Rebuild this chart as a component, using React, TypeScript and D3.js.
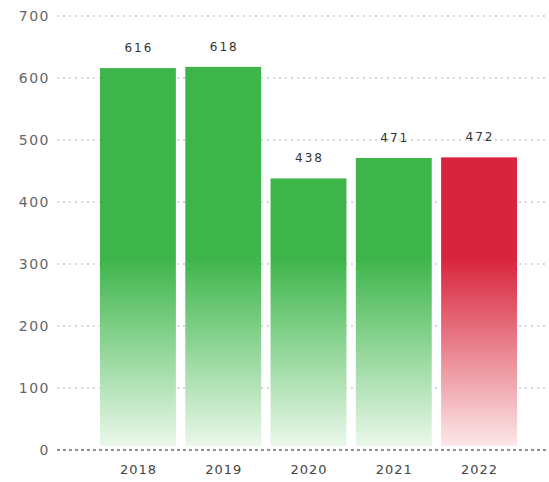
import React, { useEffect, useRef } from "react";
import * as d3 from "d3";

const years = ["2018", "2019", "2020", "2021", "2022"];
const values = [616, 618, 438, 471, 472];
const barColors = ["#3db54a", "#3db54a", "#3db54a", "#3db54a", "#d8243c"];
const fadeColors = ["#eef9ee", "#eef9ee", "#eef9ee", "#eef9ee", "#fdecec"];
const yTicks = [0, 100, 200, 300, 400, 500, 600, 700];

const App: React.FC = () => {
  const svgRef = useRef<SVGSVGElement>(null);

  useEffect(() => {
    if (!svgRef.current) return;
    const svg = d3.select(svgRef.current);
    svg.selectAll("*").remove();

    const width = 549;
    const height = 482;

    const x = d3
      .scaleBand()
      .domain(years)
      .range([95.3, 521.7])
      .paddingInner(0.11)
      .paddingOuter(0.055);

    const y = d3.scaleLinear().domain([0, 700]).range([450, 16]);

    const font = "'DejaVu Sans', sans-serif";

    // Gradients (absolute coordinates so all bars fade the same way)
    const defs = svg.append("defs");
    years.forEach((yr, i) => {
      const g = defs
        .append("linearGradient")
        .attr("id", `grad-${yr}`)
        .attr("gradientUnits", "userSpaceOnUse")
        .attr("x1", 0)
        .attr("x2", 0)
        .attr("y1", y(310))
        .attr("y2", y(0));
      g.append("stop").attr("offset", "0%").attr("stop-color", barColors[i]);
      g.append("stop").attr("offset", "100%").attr("stop-color", fadeColors[i]);
    });

    // Grid lines
    svg
      .append("g")
      .selectAll("line")
      .data(yTicks.filter((t) => t > 0))
      .enter()
      .append("line")
      .attr("x1", 57)
      .attr("x2", width)
      .attr("y1", (d) => y(d))
      .attr("y2", (d) => y(d))
      .attr("stroke", "#cccccc")
      .attr("stroke-width", 1.5)
      .attr("stroke-dasharray", "2,4");

    // Y tick labels
    svg
      .append("g")
      .selectAll("text")
      .data(yTicks)
      .enter()
      .append("text")
      .attr("x", 50)
      .attr("y", (d) => y(d))
      .attr("dy", "0.35em")
      .attr("text-anchor", "end")
      .style("font-family", font)
      .style("font-size", "14px")
      .style("letter-spacing", "1.5px")
      .attr("fill", "#666")
      .text((d) => d);

    // Bars
    svg
      .append("g")
      .selectAll("rect")
      .data(values)
      .enter()
      .append("rect")
      .attr("x", (_, i) => x(years[i]) || 0)
      .attr("y", (d) => y(d))
      .attr("width", x.bandwidth())
      .attr("height", (d) => y(0) - y(d) - 4)
      .attr("fill", (_, i) => `url(#grad-${years[i]})`);

    // Zero line
    svg
      .append("line")
      .attr("x1", 57)
      .attr("x2", width)
      .attr("y1", y(0))
      .attr("y2", y(0))
      .attr("stroke", "#9a8a8a")
      .attr("stroke-width", 2)
      .attr("stroke-dasharray", "3,3");

    // Value labels
    svg
      .append("g")
      .selectAll("text")
      .data(values)
      .enter()
      .append("text")
      .attr("x", (_, i) => (x(years[i]) || 0) + x.bandwidth() / 2 + 1)
      .attr("y", (d) => y(d) - 16)
      .attr("text-anchor", "middle")
      .style("font-family", font)
      .style("font-size", "12px")
      .style("letter-spacing", "2px")
      .attr("fill", "#333")
      .text((d) => d);

    // X labels
    svg
      .append("g")
      .selectAll("text")
      .data(years)
      .enter()
      .append("text")
      .attr("x", (d) => (x(d) || 0) + x.bandwidth() / 2 + 0.5)
      .attr("y", 474)
      .attr("text-anchor", "middle")
      .style("font-family", font)
      .style("font-size", "13px")
      .style("letter-spacing", "1px")
      .attr("fill", "#444")
      .text((d) => d);

    svg.attr("width", width).attr("height", height);
  }, []);

  return (
    <div style={{ position: "fixed", left: 0, top: 0, background: "#fff" }}>
      <svg ref={svgRef} style={{ display: "block" }}></svg>
    </div>
  );
};

export default App;
